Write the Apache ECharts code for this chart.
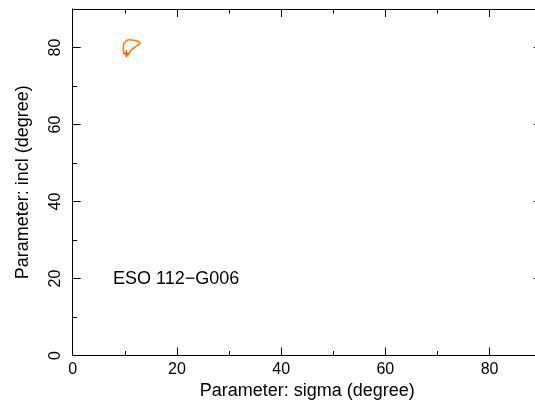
<!DOCTYPE html>
<html>
<head>
<meta charset="utf-8">
<script src="https://cdn.jsdelivr.net/npm/echarts@6/dist/echarts.min.js"></script>
<style>html,body{margin:0;padding:0;background:#fff;}#c{width:535px;height:408px;}</style>
</head>
<body>
<div id="c"></div>
<script>
// Confidence contour (sigma, incl) in degrees
const contourSigma = [10.35, 9.9, 9.7, 9.75, 10.1, 10.75, 11.7, 12.5, 12.95, 12.4, 11.95, 11.4, 11.0, 10.7, 10.35];
const contourIncl  = [77.8, 78.6, 79.4, 80.6, 81.5, 82.0, 81.9, 81.6, 81.1, 80.5, 80.1, 79.5, 78.9, 78.2, 77.8];
const bestSigma = [10.3];
const bestIncl = [78.4];
const xTicks = [0, 20, 40, 60, 80];
const yTicks = [0, 20, 40, 60, 80];
const galaxyName = 'ESO 112\u2212G006';
const xName = 'Parameter: sigma (degree)';
const yName = 'Parameter: incl (degree)';

const contour = contourSigma.map((s, i) => [s, contourIncl[i]]);
const best = bestSigma.map((s, i) => [s, bestIncl[i]]);
const FONT = '"Liberation Sans", Arial, Helvetica, sans-serif';
const lineStyle = { color: '#000', width: 1 };

function axisCommon(extra) {
  return Object.assign({
    type: 'value', min: 0, max: 90, gridIndex: 0,
    splitLine: { show: false },
    axisLine: { show: true, lineStyle: lineStyle, onZero: false },
    axisTick: { show: true, inside: true, length: 8, lineStyle: lineStyle },
    axisLabel: { show: false }
  }, extra);
}
const fmt = v => (xTicks.indexOf(v) >= 0 ? String(v) : '');
const fmtY = v => (yTicks.indexOf(v) >= 0 ? String(v) : '');

const chart = echarts.init(document.getElementById('c'), null, { renderer: 'canvas' });
chart.setOption({
  animation: false,
  backgroundColor: '#fff',
  grid: { left: 72.7, top: 9, width: 469, height: 346.5, containLabel: false, outerBoundsMode: 'none' },
  xAxis: [
    axisCommon({ position: 'bottom', interval: 20,
      name: xName, nameLocation: 'middle', nameGap: 25,
      nameTextStyle: { fontFamily: FONT, fontSize: 18, color: '#000' },
      axisLabel: { show: true, formatter: fmt, margin: 6, fontFamily: FONT, fontSize: 16, color: '#000' } }),
    axisCommon({ position: 'bottom', interval: 10, axisTick: { show: true, inside: true, length: 4.5, lineStyle: lineStyle } }),
    axisCommon({ position: 'top', interval: 20 }),
    axisCommon({ position: 'top', interval: 10, axisTick: { show: true, inside: true, length: 4.5, lineStyle: lineStyle } })
  ],
  yAxis: [
    axisCommon({ position: 'left', interval: 20,
      name: yName, nameLocation: 'middle', nameGap: 41,
      nameTextStyle: { fontFamily: FONT, fontSize: 18, color: '#000' },
      axisLabel: { show: true, rotate: 90, formatter: fmtY, margin: 9, fontFamily: FONT, fontSize: 16, color: '#000' } }),
    axisCommon({ position: 'left', interval: 10, axisTick: { show: true, inside: true, length: 4.5, lineStyle: lineStyle } }),
    axisCommon({ position: 'right', interval: 20 }),
    axisCommon({ position: 'right', interval: 10, axisTick: { show: true, inside: true, length: 4.5, lineStyle: lineStyle } })
  ],
  series: [
    { type: 'line', xAxisIndex: 0, yAxisIndex: 0, data: contour, showSymbol: false, smooth: 0.3,
      lineStyle: { color: '#ff7f00', width: 1.6 }, silent: true },
    { type: 'scatter', xAxisIndex: 0, yAxisIndex: 0, data: best, symbol: 'path://M4,0H6V4H10V6H6V10H4V6H0V4H4Z',
      symbolSize: 7, itemStyle: { color: '#ff0000' }, silent: true }
  ],
  graphic: [
    { type: 'text', left: 113, top: 270, style: { text: galaxyName, fontFamily: FONT, fontSize: 18, fill: '#000' } }
  ]
});
</script>
</body>
</html>
